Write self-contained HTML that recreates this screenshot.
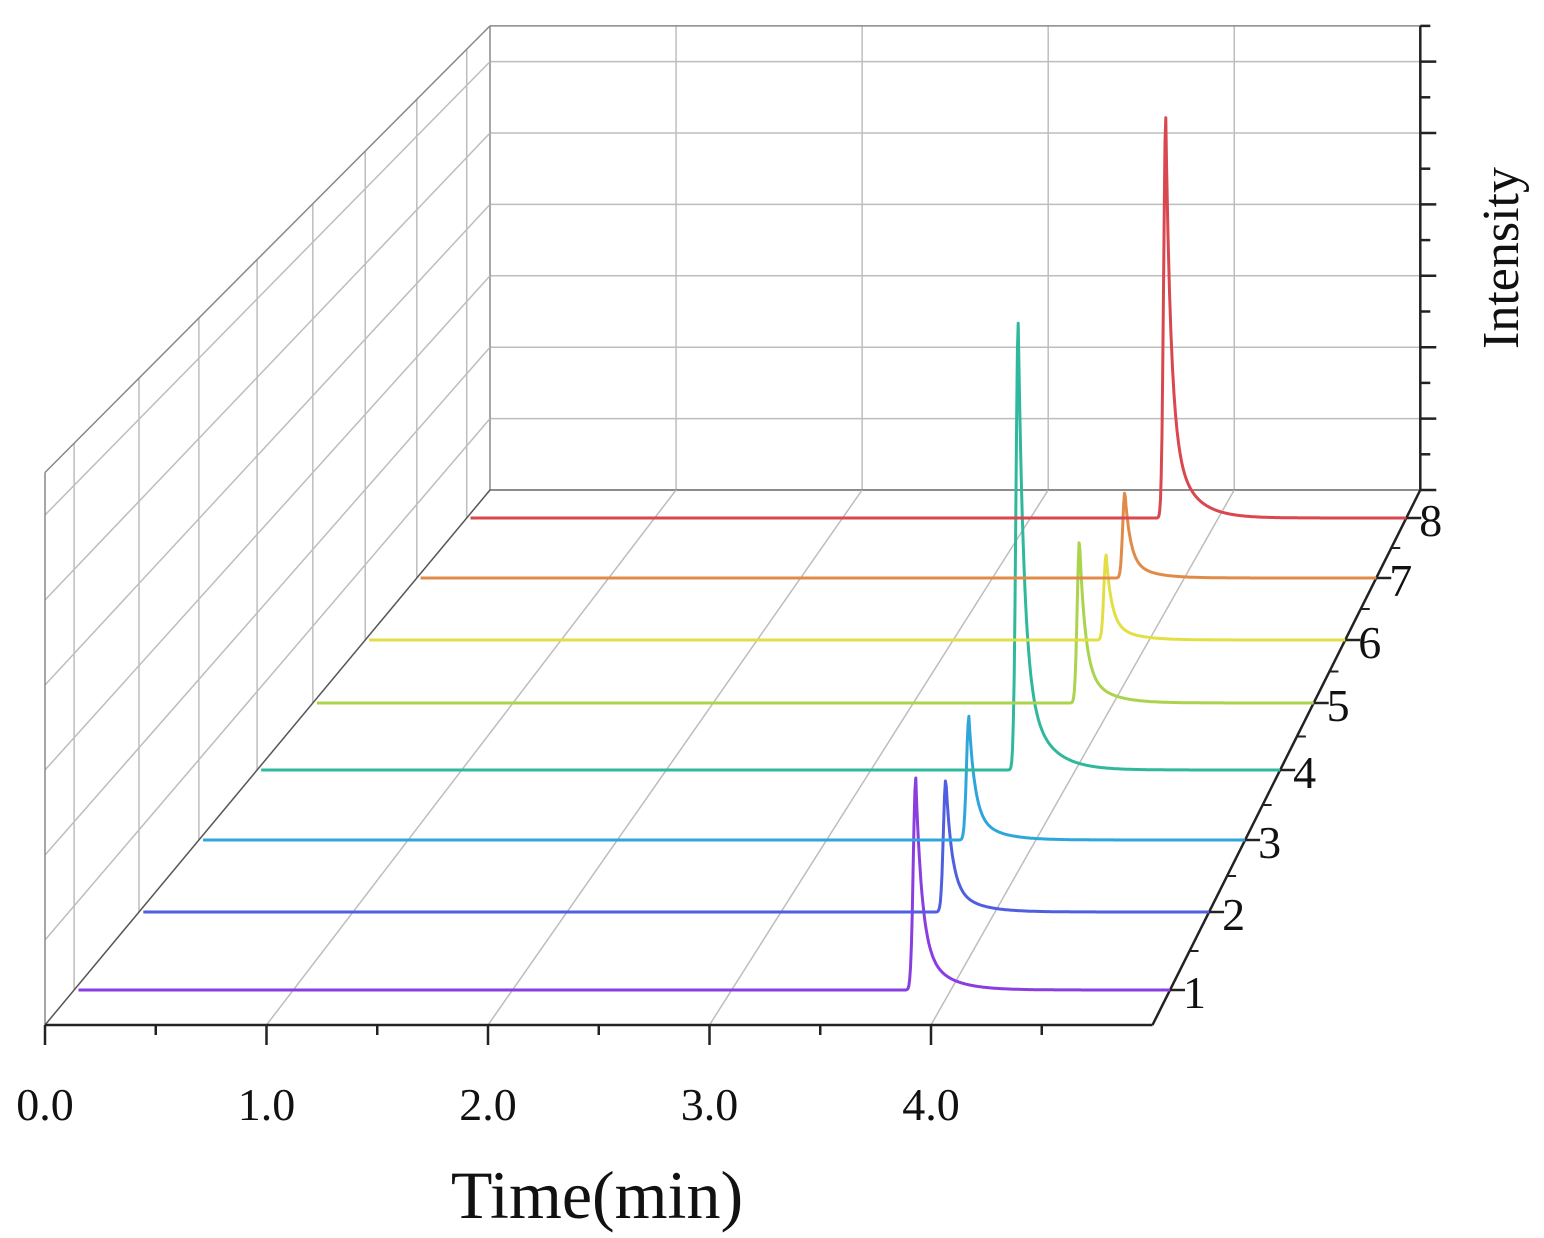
<!DOCTYPE html>
<html><head><meta charset="utf-8"><style>
html,body{margin:0;padding:0;background:#fff;}
svg{display:block;font-family:"Liberation Serif",serif;}
</style></head><body>
<svg id="chart" width="1544" height="1238" viewBox="0 0 1544 1238" xmlns="http://www.w3.org/2000/svg">
<g id="grid"></g>
<g id="axes"></g>
<g id="series"></g>
<text x="597" y="1218" font-size="68" text-anchor="middle" fill="#111">Time(min)</text>
<text transform="translate(1518,258) rotate(-90)" font-size="52" text-anchor="middle" fill="#111">Intensity</text>
</svg>
<script>
const seriesLabels = ["1","2","3","4","5","6","7","8"];
const seriesBaseY = [990, 912, 840, 770, 703, 640, 578, 518];
const peakTimes = [3.84, 3.77, 3.68, 3.72, 3.83, 3.78, 3.69, 3.72];
const peakHeights = [2.52, 1.62, 1.54, 5.69, 2.12, 1.13, 1.17, 5.55];
const seriesColors = ["#8a3ee0","#4f5fe0","#2ea6dc","#2fb89c","#a9d44c","#e2df44","#e08c48","#d9474f"];
const xTicks = [0,1,2,3,4];
const xTickLabels = ["0.0","1.0","2.0","3.0","4.0"];
const zGrid = [1,2,3,4,5,6];

const NS="http://www.w3.org/2000/svg";
const FX=45, FY=1025, DX=445, DY=535, PXT=221.5, PXU=85, XMAX=5, ZMAX=6.5;
function depth(y){return (FY-y)/DY;}
function sc(d){return 1-0.16*d;}
function P(t,d,u){const s=sc(d);return [FX+DX*d+t*PXT*s, FY-DY*d-u*PXU*s];}
function mk(tag,attrs,parent){const e=document.createElementNS(NS,tag);for(const k in attrs)e.setAttribute(k,attrs[k]);parent.appendChild(e);return e;}
const grid=document.getElementById('grid'),axes=document.getElementById('axes'),ser=document.getElementById('series');
function line(a,b,par,col,w,name){const e=mk('line',{x1:a[0],y1:a[1],x2:b[0],y2:b[1],stroke:col,'stroke-width':w},par);

return e;}
const G="#bdbdbd";
for(const u of zGrid) line(P(0,1,u),P(XMAX,1,u),grid,G,1.5,'back-grid-h');
for(const t of xTicks.slice(1)) line(P(t,1,0),P(t,1,ZMAX),grid,G,1.5,'back-grid-v');
line(P(0,1,ZMAX),P(XMAX,1,ZMAX),grid,"#888",1.5,'back-wall-top');
line(P(0,1,0),P(0,1,ZMAX),grid,"#888",1.5,'back-wall-left');
line(P(0,1,0),P(XMAX,1,0),grid,"#666",1.5,'back-wall-bottom');
for(const t of xTicks.slice(1)) line(P(t,0,0),P(t,1,0),grid,G,1.5,'floor-grid');
for(const u of zGrid) line(P(0,0,u),P(0,1,u),grid,G,1.5,'left-grid-h');
for(const y of seriesBaseY){const d=depth(y);line(P(0,d,0),P(0,d,ZMAX),grid,G,1.5,'left-grid-v');}
line(P(0,0,ZMAX),P(0,1,ZMAX),grid,"#888",1.5,'left-wall-top');
line(P(0,0,0),P(0,0,ZMAX),grid,"#888",1.5,'left-wall-front');
line(P(0,0,0),P(0,1,0),grid,"#555",1.5,'left-wall-bottom');
line(P(0,0,0),P(XMAX,0,0),axes,"#222",2.5,'x-axis-line');
for(let i=0;i<10;i++){const t=i*0.5;const a=P(t,0,0);line(a,[a[0],a[1]+(i%2?10:20)],axes,"#222",2.5,'x-tick');}
xTicks.forEach((t,i)=>{const a=P(t,0,0);const e=mk('text',{x:a[0],y:1120,'font-size':46,'text-anchor':'middle',fill:'#111'},axes);e.textContent=xTickLabels[i];

});
line(P(XMAX,0,0),P(XMAX,1,0),axes,"#222",2.5,'depth-axis-line');
seriesBaseY.forEach((y,i)=>{const d=depth(y);const a=P(XMAX,d,0);line(a,[a[0]+15,a[1]],axes,"#222",2.5,'depth-tick');
if(i<7){const d2=(depth(seriesBaseY[i+1])+d)/2;const b=P(XMAX,d2,0);line(b,[b[0]+9,b[1]],axes,"#222",2,'depth-minor-tick');}
const e=mk('text',{x:a[0]+13,y:a[1]+18,'font-size':46,fill:'#111'},axes);e.textContent=seriesLabels[i];

});
line(P(XMAX,1,0),P(XMAX,1,ZMAX),axes,"#222",2.5,'y-axis-line');
for(let k=0;k<=13;k++){const u=k*0.5;const a=P(XMAX,1,u);line(a,[a[0]+(k%2?10:16),a[1]],axes,"#222",2.5,'y-tick');}
function shape(t,tp){const dt=t-tp;if(dt<0)return Math.exp(-Math.pow(dt/0.016,2));return 0.78*Math.exp(-dt/0.028)+0.22*Math.exp(-dt/0.11);}
seriesBaseY.forEach((y,i)=>{const d=depth(y);let pts=[];
for(let t=0.02;t<=XMAX+1e-9;t+=0.004){const p=P(t,d,peakHeights[i]*shape(t,peakTimes[i]));pts.push(p[0].toFixed(1)+','+p[1].toFixed(1));}
const e=mk('polyline',{points:pts.join(' '),fill:'none',stroke:seriesColors[i],'stroke-width':3,'stroke-linejoin':'round'},ser);

});
</script>
</body></html>
